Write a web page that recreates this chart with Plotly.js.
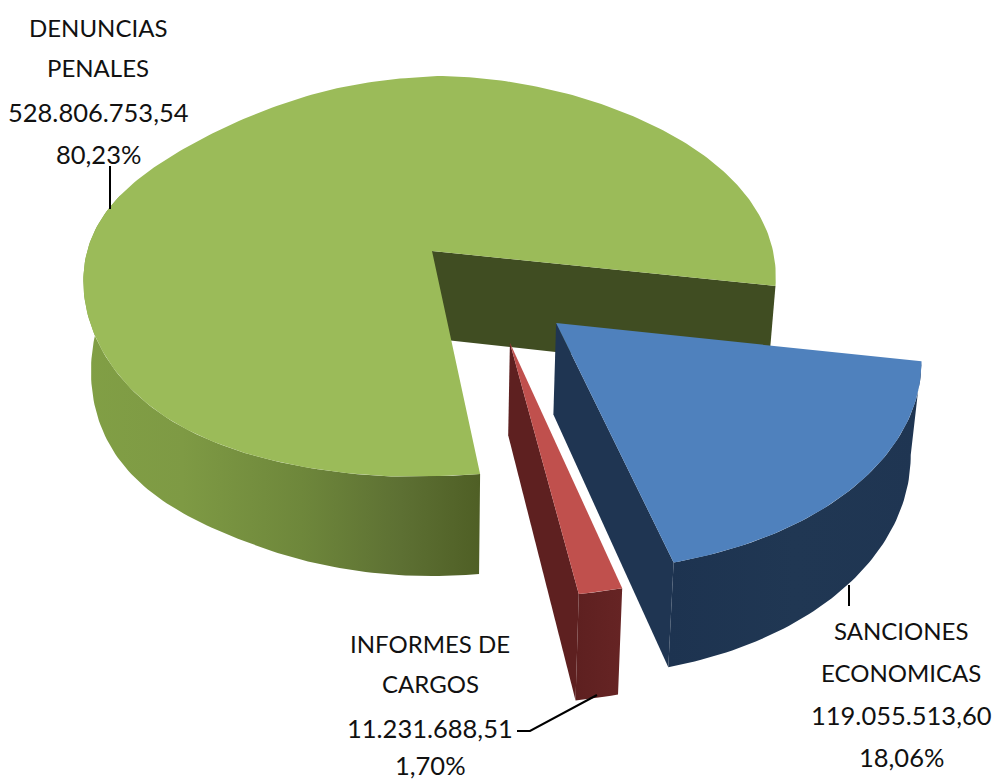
<!DOCTYPE html>
<html><head><meta charset="utf-8">
<script src="https://cdn.plot.ly/plotly-3.0.1.min.js"></script>
<style>html,body{margin:0;padding:0;background:#fff}#c{width:993px;height:782px}</style></head>
<body><div id="c"></div>
<script>
const categories = ["SANCIONES ECONOMICAS", "INFORMES DE CARGOS", "DENUNCIAS PENALES"];
const values = [119055513.60, 11231688.51, 528806753.54];
const valueLabels = ["119.055.513,60", "11.231.688,51", "528.806.753,54"];
const percentLabels = ["18,06%", "1,70%", "80,23%"];

const view = {ax:432, ay:251, R:344, S:196.9, k:0.125, D:87.5, shrink:0.978, start:10};
const explode = [[0.345,0.35],[0.214,0.44],[0,0]];
const trims = [[0,1],[1,1],[1.8,0]];
const lean = [0,0,1];
const topColors = ["#4F81BD","#C0504D","#9BBB59"];
const wallColors = ["#1F3552","#5E2020","#404D22"];
const sideScales = [
 [[0,"#1D3350"],[0.5,"#203753"],[1,"#1F3552"]],
 [[0,"#5E2020"],[1,"#662424"]],
 [[0,"#819F45"],[0.25,"#7E9A44"],[0.55,"#6E873B"],[0.8,"#5D7033"],[1,"#4F5F25"]]
];

function project(u,v,z){
  const w = 1 - view.k*v;
  const sx = z ? view.shrink : 1;
  return [view.ax + sx*view.R*u/w, view.ay + (view.S*v + (z?view.D:0))/w];
}
function rim(t,o,z,l){
  const a=t*Math.PI/180, c=Math.cos(a), s2=Math.pow(Math.sin(2*a),2);
  const p=project(c+o[0],Math.sin(a)+o[1],z);
  if(l){
    p[0]-=Math.pow(c,4)*(c>0?3:2);
    if(!z){
      if(c<0) p[1]+=Math.sqrt(-c)*(5+10*s2);
      else if(Math.sin(a)<0) p[1]+=3*s2;
    } else {
      const tt=((t%360)+360)%360;
      if(tt>115 && tt<195) p[1]+=12*Math.pow(Math.sin(2.25*(tt-115)*Math.PI/180),2);
    }
  }
  return p;
}
function arc(t0,t1,o,z,l){ const p=[]; const n=Math.max(2,Math.round(Math.abs(t1-t0)));
  for(let i=0;i<=n;i++) p.push(rim(t0+(t1-t0)*i/n,o,z,l)); return p; }
function poly(pts,name,extra){ return Object.assign({type:"scatter",mode:"lines",x:pts.map(p=>p[0]),y:pts.map(p=>p[1]),
  fill:"toself",line:{width:0},name:name,hoverinfo:"name",showlegend:false},extra); }

const total = values.reduce((a,b)=>a+b,0);
let cur = view.start;
const spans = values.map((v,i)=>{const s=[cur+trims[i][0],cur+v/total*360+trims[i][1]]; cur+=v/total*360; return s;});

const traces = [];
const [g,b,r] = [2,0,1];
[g,b,r].forEach(i=>{
  const s=spans[i], o=explode[i], l=lean[i];
  const apexT=project(o[0],o[1],0), apexB=project(o[0],o[1],1);
  traces.push(poly([apexT,rim(s[1],o,0,l),rim(s[1],o,1,l),apexB],categories[i],{fillcolor:wallColors[i]}));
  const side = l ? arc(s[0],200,o,0,l).concat(arc(200,s[0],o,1,l))
                 : arc(s[0],s[1],o,0,l).concat(arc(s[1],s[0],o,1,l));
  traces.push(poly(side,categories[i],{fillcolor:sideScales[i][0][1],fillgradient:{type:"horizontal",colorscale:sideScales[i]}}));
  traces.push(poly([apexT].concat(arc(s[0],s[1],o,0,l)),categories[i],{fillcolor:topColors[i]}));
});

const labelLines = [
 {x:98, ys:[27,67,112,154], lines:["DENUNCIAS","PENALES",valueLabels[2],percentLabels[2]]},
 {x:430,ys:[643,683,728,765], lines:["INFORMES DE","CARGOS",valueLabels[1],percentLabels[1]]},
 {x:901,ys:[630,672,715,757], lines:["SANCIONES","ECONOMICAS",valueLabels[0],percentLabels[0]]}
];
const annotations=[];
labelLines.forEach(l=>l.lines.forEach((t,i)=>annotations.push({x:l.x,y:l.ys[i],xref:"x",yref:"y",text:t,showarrow:false,xanchor:"center",yanchor:"middle",
  font:{family:"Lato, sans-serif",size:i<2?24:25.5,color:"#111"}})));
const leaders=[[[110,166],[110,209]],[[849,585],[849,606]],[[517,731],[530,731],[597,695]]];
const shapes=leaders.map(p=>({type:"path",xref:"x",yref:"y",path:"M"+p.map(q=>q.join(",")).join("L"),line:{color:"#000",width:2}}));

Plotly.newPlot("c",traces,{
  width:993,height:782,margin:{l:0,r:0,t:0,b:0},paper_bgcolor:"#fff",plot_bgcolor:"#fff",showlegend:false,
  xaxis:{range:[0,993],visible:false,fixedrange:true},
  yaxis:{range:[782,0],visible:false,fixedrange:true},
  annotations:annotations,shapes:shapes
},{displayModeBar:false,staticPlot:true});
</script></body></html>
